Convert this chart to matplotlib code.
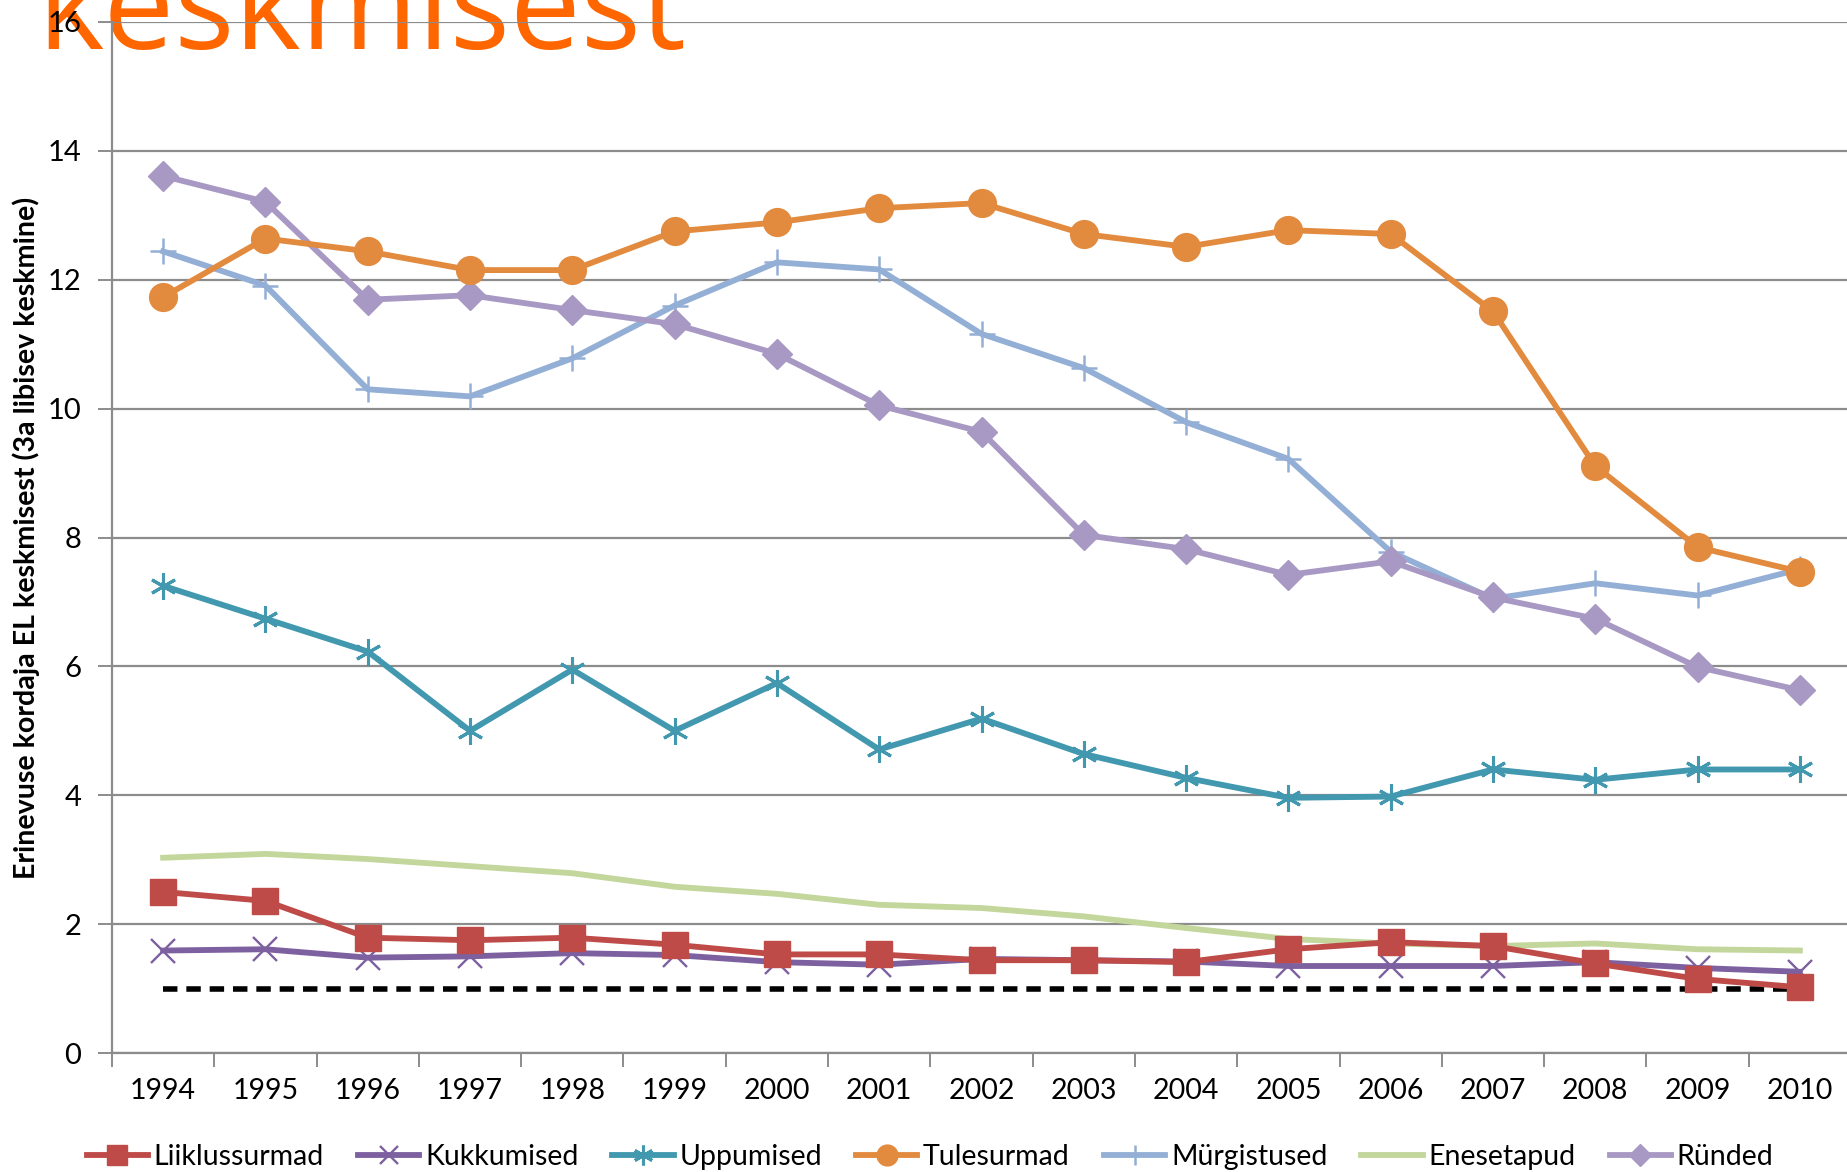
import numpy as np
import matplotlib.pyplot as plt

years = [str(y) for y in range(1994, 2011)]

liiklussurmad = [2.50, 2.36, 1.79, 1.75, 1.79, 1.68, 1.53, 1.53, 1.44, 1.44, 1.41, 1.61, 1.72, 1.66, 1.39, 1.15, 1.02]
kukkumised = [1.59, 1.61, 1.48, 1.50, 1.55, 1.52, 1.41, 1.37, 1.46, 1.44, 1.42, 1.35, 1.35, 1.35, 1.41, 1.32, 1.26]
uppumised = [7.25, 6.74, 6.23, 5.00, 5.95, 5.00, 5.74, 4.71, 5.19, 4.64, 4.27, 3.96, 3.98, 4.40, 4.24, 4.40, 4.40]
tulesurmad = [11.73, 12.64, 12.44, 12.15, 12.15, 12.75, 12.89, 13.11, 13.19, 12.71, 12.51, 12.77, 12.71, 11.51, 9.11, 7.85, 7.47]
murgistused = [12.44, 11.91, 10.30, 10.19, 10.78, 11.60, 12.27, 12.16, 11.16, 10.63, 9.79, 9.22, 7.78, 7.05, 7.29, 7.10, 7.51]
enesetapud = [3.03, 3.09, 3.01, 2.90, 2.79, 2.58, 2.47, 2.30, 2.25, 2.12, 1.94, 1.77, 1.70, 1.66, 1.70, 1.61, 1.59]
runded = [13.61, 13.21, 11.69, 11.76, 11.53, 11.31, 10.85, 10.05, 9.64, 8.04, 7.82, 7.42, 7.63, 7.07, 6.74, 5.99, 5.63]
el_keskmine = [1.0] * len(years)

plt.rcParams['font.family'] = ['Lato', 'DejaVu Sans']

W, H = 1847, 1172
fig = plt.figure(figsize=(W / 100, H / 100), dpi=100)
ax = fig.add_axes([112 / W, 1 - 1053 / H, 1739 / W, (1053 - 22) / H])
ax.patch.set_alpha(0)

# pealkirja jääk (ülemine osa lõigatud)
fig.text(37 / W, 1 - 49 / H, "keskmisest", color='#FF6600', fontsize=91,
         family=['Open Sans', 'DejaVu Sans'], va='baseline', ha='left', zorder=-5)

x = np.arange(len(years))
lw = 4.2
ax.plot(x, el_keskmine, color='black', lw=4.0, ls=(0, (2.6, 1.6)), zorder=2)

ax.plot(x, enesetapud, color='#C3D69B', lw=lw, label='Enesetapud', zorder=3)
ax.plot(x, kukkumised, color='#7D60A0', lw=lw, marker='x', ms=17, mew=1.7, label='Kukkumised', zorder=4)
ax.plot(x, liiklussurmad, color='#BE4B48', lw=lw, marker='s', ms=19, label='Liiklussurmad', zorder=4)
ax.plot(x, uppumised, color='#4198AF', lw=lw, marker=(6, 2, 0), ms=19, mew=2.2, label='Uppumised', zorder=4)
ax.plot(x, murgistused, color='#94AFD6', lw=lw, marker='+', ms=19, mew=1.8, label='Mürgistused', zorder=4)
ax.plot(x, runded, color='#A899C4', lw=lw, marker='D', ms=15, label='Ründed', zorder=4)
ax.plot(x, tulesurmad, color='#E28A3E', lw=lw, marker='o', ms=20, label='Tulesurmad', zorder=5)

ax.set_xlim(-0.5, len(years) - 0.5)
ax.set_ylim(0, 16)
ax.set_yticks(np.arange(0, 17, 2))
ax.grid(axis='y', color='#8C8C8C', lw=1.6)
ax.set_axisbelow(True)

ax.set_xticks(np.arange(-0.5, len(years), 1.0))
ax.set_xticklabels([])
ax.set_xticks(x, minor=True)
ax.set_xticklabels(years, minor=True)
ax.tick_params(axis='x', which='major', length=10, width=1.4, color='#8C8C8C')
ax.tick_params(axis='x', which='minor', length=0, pad=18, labelsize=20.5)
ax.tick_params(axis='y', length=10, width=1.4, color='#8C8C8C', pad=12, labelsize=21)

for s in ['top', 'right']:
    ax.spines[s].set_visible(False)
for s in ['left', 'bottom']:
    ax.spines[s].set_color('#8C8C8C')
    ax.spines[s].set_linewidth(1.6)

fig.text(26 / W, 1 - 538 / H, "Erinevuse kordaja EL keskmisest (3a libisev keskmine)",
         rotation=90, ha='center', va='center', fontsize=20.6, fontweight='bold')

order = ['Liiklussurmad', 'Kukkumised', 'Uppumised', 'Tulesurmad', 'Mürgistused', 'Enesetapud', 'Ründed']
handles, labels = ax.get_legend_handles_labels()
hmap = dict(zip(labels, handles))
ax.legend([hmap[k] for k in order], order, loc='center', bbox_to_anchor=(930 / W, 1 - 1157 / H),
          bbox_transform=fig.transFigure, ncol=7, frameon=False, fontsize=20.5,
          handlelength=2.15, handletextpad=0.2, columnspacing=1.2, markerscale=0.75)

fig.savefig('out.png', dpi=100)
